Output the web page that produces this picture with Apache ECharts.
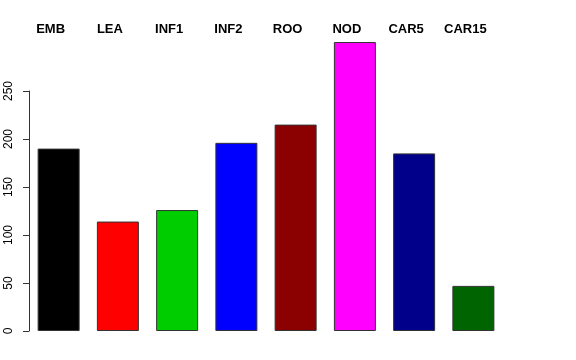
<!DOCTYPE html>
<html>
<head>
<meta charset="utf-8">
<script src="https://cdn.jsdelivr.net/npm/echarts@6/dist/echarts.min.js"></script>
<style>html,body{margin:0;padding:0;background:#fff}#c{width:576px;height:360px}</style>
</head>
<body>
<div id="c"></div>
<script>
const categories = ['EMB', 'LEA', 'INF1', 'INF2', 'ROO', 'NOD', 'CAR5', 'CAR15'];
const values = [190, 114, 126, 196, 215, 301, 185, 47];
const barColors = ['#000000', '#FF0000', '#00CD00', '#0000FF', '#8B0000', '#FF00FF', '#00008B', '#006400'];
const yTicks = [0, 50, 100, 150, 200, 250];

const chart = echarts.init(document.getElementById('c'), null, {renderer: 'canvas'});
chart.setOption({
  animation: false,
  backgroundColor: '#ffffff',
  grid: {left: 29, right: 73, top: 91, bottom: 29, containLabel: false},
  xAxis: [{
    type: 'category', data: categories, position: 'bottom',
    axisLine: {show: false}, axisTick: {show: false}, axisLabel: {show: false}
  }, {
    type: 'category', data: categories, position: 'top',
    axisLine: {show: false}, axisTick: {show: false},
    axisLabel: {show: true, margin: 55, fontFamily: 'Liberation Sans, Arial, sans-serif', fontWeight: 'bold', fontSize: 13, color: '#000', padding: [0, 16, 0, 0]}
  }],
  yAxis: {
    type: 'value', min: 0, max: 250, interval: 50,
    splitLine: {show: false},
    axisLine: {show: true, lineStyle: {color: '#333', width: 1}},
    axisTick: {show: true, length: 6, lineStyle: {color: '#333'}},
    axisLabel: {rotate: 90, margin: 14, fontFamily: 'Liberation Sans, Arial, sans-serif', fontSize: 12, color: '#000',
      formatter: v => yTicks.includes(v) ? String(v) : ''}
  },
  series: [{
    type: 'bar', xAxisIndex: 0, clip: false, barWidth: 42,
    data: values.map((v, i) => ({value: v, itemStyle: {color: barColors[i]}})),
    itemStyle: {borderColor: '#333', borderWidth: 1}
  }]
});
</script>
</body>
</html>
